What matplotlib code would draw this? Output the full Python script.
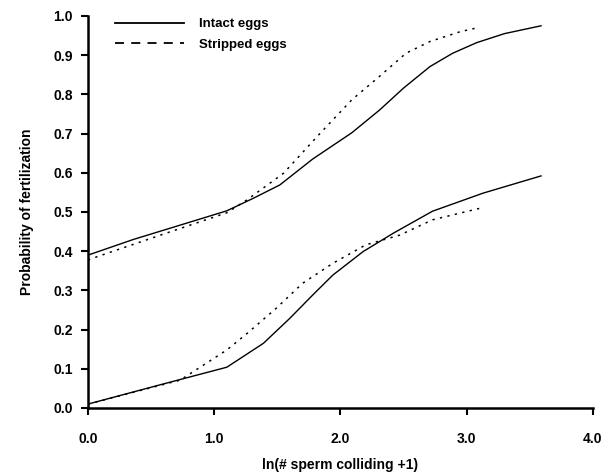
import matplotlib.pyplot as plt
from matplotlib.lines import Line2D

plt.rcParams['font.family'] = ['Liberation Sans', 'DejaVu Sans']
plt.rcParams['font.weight'] = 'bold'

# upper curves
up_intact_x = [0.0, 0.36, 1.10, 1.31, 1.52, 1.78, 2.09, 2.31, 2.50, 2.71, 2.89, 3.08, 3.30, 3.59]
up_intact_y = [0.39, 0.43, 0.503, 0.535, 0.569, 0.635, 0.702, 0.760, 0.816, 0.871, 0.905, 0.932, 0.955, 0.975]
up_strip_x = [0.0, 0.62, 1.10, 1.26, 1.55, 1.84, 2.09, 2.31, 2.52, 2.71, 2.95, 3.10]
up_strip_y = [0.378, 0.446, 0.498, 0.531, 0.599, 0.701, 0.786, 0.846, 0.905, 0.935, 0.960, 0.971]

# lower curves
lo_intact_x = [0.0, 0.57, 1.10, 1.39, 1.60, 1.78, 1.94, 2.18, 2.42, 2.73, 3.13, 3.59]
lo_intact_y = [0.01, 0.059, 0.104, 0.165, 0.229, 0.288, 0.339, 0.399, 0.446, 0.502, 0.548, 0.592]
lo_strip_x = [0.0, 0.73, 1.10, 1.26, 1.49, 1.70, 1.94, 2.20, 2.47, 2.73, 3.10]
lo_strip_y = [0.01, 0.071, 0.148, 0.19, 0.254, 0.318, 0.369, 0.416, 0.441, 0.48, 0.509]

x_ticks = [0.0, 1.0, 2.0, 3.0, 4.0]
y_ticks = [0.0, 0.1, 0.2, 0.3, 0.4, 0.5, 0.6, 0.7, 0.8, 0.9, 1.0]

fig = plt.figure(figsize=(6.13, 4.76), dpi=100)
ax = fig.add_axes([0.1436, 0.1429, 0.8234, 0.8235])

dot = (0, (1.5, 3.5))
ax.plot(up_intact_x, up_intact_y, color='black', lw=1.0)
ax.plot(lo_intact_x, lo_intact_y, color='black', lw=1.0)
ax.plot(up_strip_x, up_strip_y, color='black', lw=1.1, linestyle=dot)
ax.plot(lo_strip_x, lo_strip_y, color='black', lw=1.1, linestyle=dot)

ax.set_xlim(0, 4.0)
ax.set_ylim(0, 1.0)
ax.set_xticks(x_ticks)
ax.set_xticklabels([f'{v:.1f}' for v in x_ticks])
ax.set_yticks(y_ticks)
ax.set_yticklabels([f'{v:.1f}' for v in y_ticks])
ax.tick_params(direction='out', length=5, width=1.5, labelsize=10, pad=6)
ax.tick_params(axis='x', pad=12)

for s in ['top', 'right']:
    ax.spines[s].set_visible(False)
for s in ['left', 'bottom']:
    ax.spines[s].set_linewidth(1.8)

ax.set_xlabel('ln(# sperm colliding +1)', fontsize=10, fontweight='bold', labelpad=9)
ax.set_ylabel('Probability of fertilization', fontsize=10, fontweight='bold', labelpad=14)

handles = [Line2D([], [], color='black', lw=1.3),
           Line2D([], [], color='black', lw=1.3, linestyle=(0, (5, 4)))]
ax.legend(handles, ['Intact eggs', 'Stripped eggs'], loc='upper left',
          bbox_to_anchor=(0.03, 1.025), frameon=False, handlelength=5.2,
          handletextpad=1.2, fontsize=9.5, labelspacing=0.65)

fig.savefig('out.png', dpi=100)
